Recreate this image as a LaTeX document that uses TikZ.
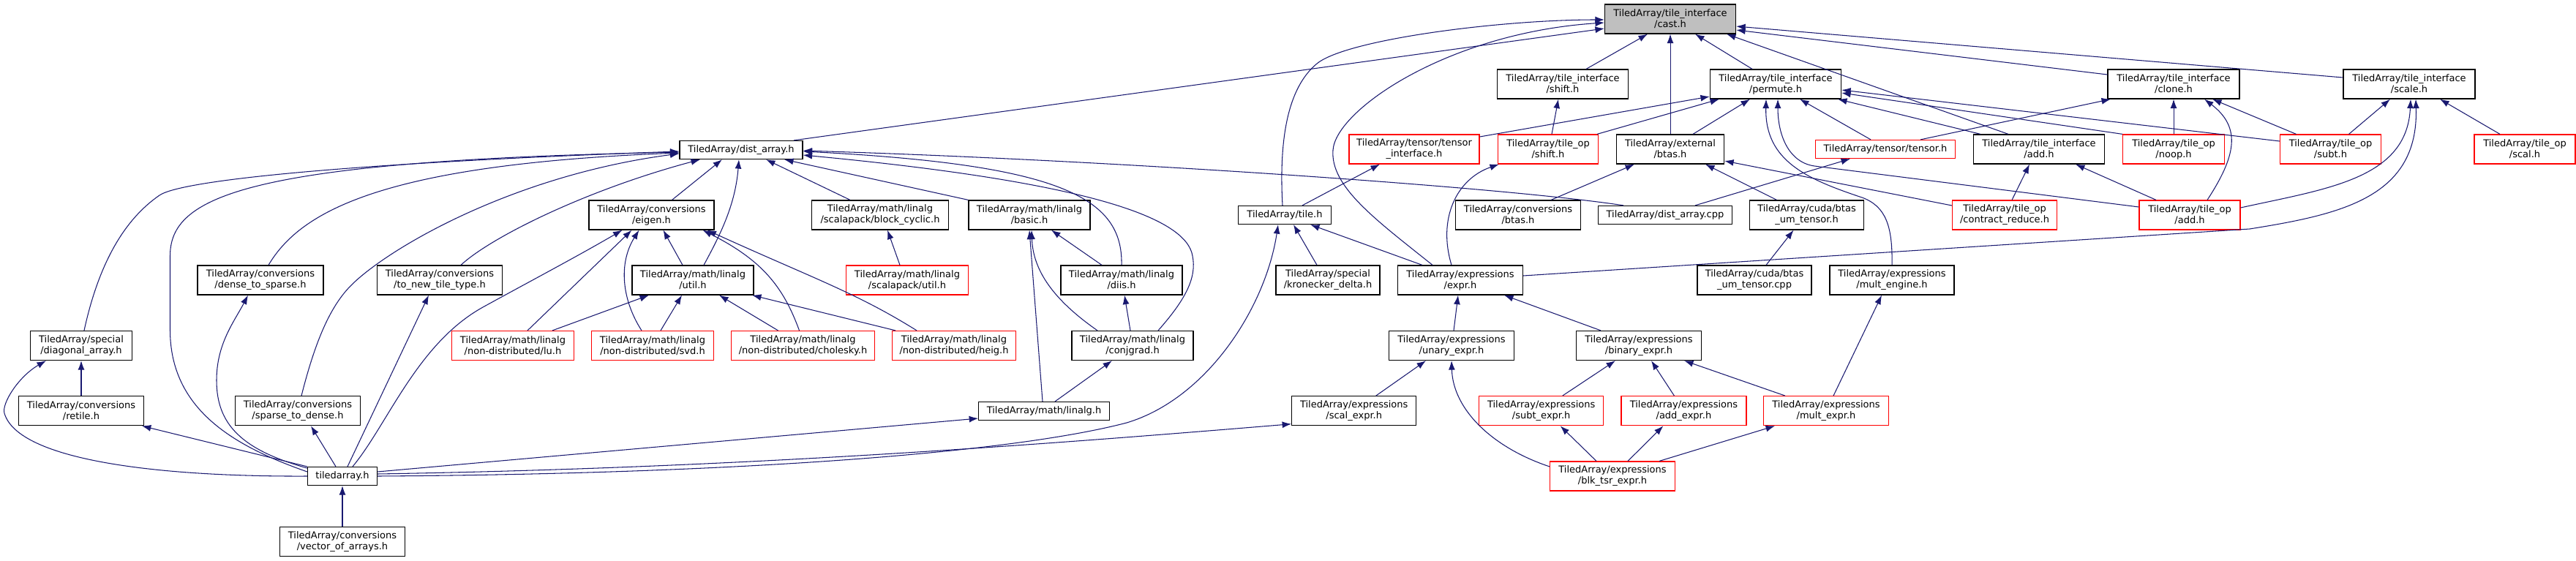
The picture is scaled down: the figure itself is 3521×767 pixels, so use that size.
\documentclass[tikz,border=0pt]{standalone}
\usepackage{fontspec}
\setmainfont{DejaVu Sans}
\usetikzlibrary{arrows.meta}
\definecolor{edgeblue}{HTML}{191970}
\definecolor{castgray}{HTML}{BFBFBF}
\tikzset{
  bx/.style={draw=black, line width=0.7pt, fill=white, inner sep=0pt, align=center,
    font=\fontsize{7.4}{8.54}\selectfont, minimum height=0.8cm},
  rb/.style={bx, draw=red},
  sl/.style={minimum height=0.5cm},
  lnk/.style={draw=edgeblue, line width=0.6pt, -{Latex[length=2.5mm,width=1.8mm]}},
}
\begin{document}
\begin{tikzpicture}[x=0.02cm,y=-0.02cm]
\useasboundingbox (0,0) rectangle (3521,767);
% row 0
\node[bx,fill=castgray,minimum width=3.58cm] (cast) at (2283,26) {TiledArray/tile\_interface\\/cast.h};
% row 1
\node[bx,minimum width=3.58cm] (tishift) at (2136,115) {TiledArray/tile\_interface\\/shift.h};
\node[bx,minimum width=3.58cm] (permute) at (2427,115) {TiledArray/tile\_interface\\/permute.h};
\node[bx,minimum width=3.60cm] (clone) at (2971,115) {TiledArray/tile\_interface\\/clone.h};
\node[bx,minimum width=3.60cm] (scale) at (3293,115) {TiledArray/tile\_interface\\/scale.h};
% row 2
\node[bx,sl,minimum width=3.36cm] (distarray) at (1013,205) {TiledArray/dist\_array.h};
\node[rb,minimum width=3.56cm] (tensorinterface) at (1933,204) {TiledArray/tensor/tensor\\\_interface.h};
\node[rb,minimum width=2.74cm] (topshift) at (2116,204) {TiledArray/tile\_op\\/shift.h};
\node[bx,minimum width=2.94cm] (btas) at (2283,204) {TiledArray/external\\/btas.h};
\node[rb,sl,minimum width=3.82cm] (tensor) at (2577,204) {TiledArray/tensor/tensor.h};
\node[bx,minimum width=3.58cm] (tiadd) at (2787,204) {TiledArray/tile\_interface\\/add.h};
\node[rb,minimum width=2.78cm] (noop) at (2971,204) {TiledArray/tile\_op\\/noop.h};
\node[rb,minimum width=2.76cm] (subt) at (3185.5,204) {TiledArray/tile\_op\\/subt.h};
\node[rb,minimum width=2.76cm] (scal) at (3451,204) {TiledArray/tile\_op\\/scal.h};
% row 3
\node[bx,minimum width=3.42cm] (eigen) at (890.5,294) {TiledArray/conversions\\/eigen.h};
\node[bx,minimum width=3.74cm] (blockcyclic) at (1203,294) {TiledArray/math/linalg\\/scalapack/block\_cyclic.h};
\node[bx,minimum width=3.32cm] (basic) at (1407,294) {TiledArray/math/linalg\\/basic.h};
\node[bx,sl,minimum width=2.54cm] (tile) at (1756,294) {TiledArray/tile.h};
\node[bx,minimum width=3.42cm] (convbtas) at (2075,294) {TiledArray/conversions\\/btas.h};
\node[bx,sl,minimum width=3.66cm] (distcpp) at (2276,294) {TiledArray/dist\_array.cpp};
\node[bx,minimum width=3.12cm] (cudah) at (2469.5,294) {TiledArray/cuda/btas\\\_um\_tensor.h};
\node[rb,minimum width=2.86cm] (contract) at (2740,294) {TiledArray/tile\_op\\/contract\_reduce.h};
\node[rb,minimum width=2.76cm] (opadd) at (2993,294) {TiledArray/tile\_op\\/add.h};
% row 4
\node[bx,minimum width=3.44cm] (dense2sparse) at (356,383) {TiledArray/conversions\\/dense\_to\_sparse.h};
\node[bx,minimum width=3.42cm] (tonew) at (601,383) {TiledArray/conversions\\/to\_new\_tile\_type.h};
\node[bx,minimum width=3.32cm] (util) at (947,383) {TiledArray/math/linalg\\/util.h};
\node[rb,minimum width=3.34cm] (scautil) at (1240,383) {TiledArray/math/linalg\\/scalapack/util.h};
\node[bx,minimum width=3.32cm] (diis) at (1533,383) {TiledArray/math/linalg\\/diis.h};
\node[bx,minimum width=2.84cm] (kron) at (1815,383) {TiledArray/special\\/kronecker\_delta.h};
\node[bx,minimum width=3.42cm] (expr) at (1996,383) {TiledArray/expressions\\/expr.h};
\node[bx,minimum width=3.12cm] (cudacpp) at (2398,383) {TiledArray/cuda/btas\\\_um\_tensor.cpp};
\node[bx,minimum width=3.40cm] (multengine) at (2586,383) {TiledArray/expressions\\/mult\_engine.h};
% row 5
\node[bx,minimum width=2.78cm] (diag) at (111,472.5) {TiledArray/special\\/diagonal\_array.h};
\node[rb,minimum width=3.34cm] (lu) at (701,472.5) {TiledArray/math/linalg\\/non-distributed/lu.h};
\node[rb,minimum width=3.33cm] (svd) at (892,472.5) {TiledArray/math/linalg\\/non-distributed/svd.h};
\node[rb,minimum width=3.92cm] (cholesky) at (1097.5,472.5) {TiledArray/math/linalg\\/non-distributed/cholesky.h};
\node[rb,minimum width=3.38cm] (heig) at (1304,472.5) {TiledArray/math/linalg\\/non-distributed/heig.h};
\node[bx,minimum width=3.32cm] (conjgrad) at (1548,472.5) {TiledArray/math/linalg\\/conjgrad.h};
\node[bx,minimum width=3.42cm] (unary) at (1984,472.5) {TiledArray/expressions\\/unary\_expr.h};
\node[bx,minimum width=3.42cm] (binary) at (2240,472.5) {TiledArray/expressions\\/binary\_expr.h};
% row 6
\node[bx,minimum width=3.41cm] (retile) at (111,561.7) {TiledArray/conversions\\/retile.h};
\node[bx,minimum width=3.41cm] (sparse2dense) at (407,561.7) {TiledArray/conversions\\/sparse\_to\_dense.h};
\node[bx,sl,minimum width=3.57cm] (linalg) at (1427,562) {TiledArray/math/linalg.h};
\node[bx,minimum width=3.40cm] (scalexpr) at (1850.7,561.7) {TiledArray/expressions\\/scal\_expr.h};
\node[rb,minimum width=3.40cm] (subtexpr) at (2106.7,561.7) {TiledArray/expressions\\/subt\_expr.h};
\node[rb,minimum width=3.42cm] (addexpr) at (2301.4,561.7) {TiledArray/expressions\\/add\_expr.h};
\node[rb,minimum width=3.42cm] (multexpr) at (2496,561.7) {TiledArray/expressions\\/mult\_expr.h};
% row 7
\node[bx,sl,minimum width=1.90cm] (tiledarray) at (468,651) {tiledarray.h};
\node[rb,minimum width=3.41cm] (blk) at (2204,651) {TiledArray/expressions\\/blk\_tsr\_expr.h};
% row 8
\node[bx,minimum width=3.41cm] (vecarrays) at (468,740.3) {TiledArray/conversions\\/vector\_of\_arrays.h};

% ---------- edges (arrow at the included file) ----------
% into cast.h
\draw[lnk] ([shift={(32,0)}]tishift.north) -- ([shift={(-31,0)}]cast.south);
\draw[lnk] (btas.north) -- (cast.south);
\draw[lnk] ([shift={(-32,0)}]permute.north) -- ([shift={(34,0)}]cast.south);
\draw[lnk] ([shift={(-42,0)}]tiadd.north) -- ([shift={(77,0)}]cast.south);
\draw[lnk] ([shift={(0,-13)}]clone.west) -- ([shift={(0,15)}]cast.east);
\draw[lnk] ([shift={(0,-9)}]scale.west) -- ([shift={(0,10)}]cast.east);
\draw[lnk] ([shift={(72,0)}]distarray.north) -- ([shift={(0,13)}]cast.west);
\draw[lnk] ([shift={(-3,0)}]tile.north) .. controls (1748,190) and (1760,120) .. (1800,87)
  .. controls (1840,54) and (2050,27) .. ([shift={(0,1)}]cast.west);
\draw[lnk] ([shift={(-38,0)}]expr.north) .. controls (1880,300) and (1818,255) .. (1822,205)
  .. controls (1826,150) and (1980,45) .. ([shift={(0,5)}]cast.west);
% into permute.h
\draw[lnk] ([shift={(0,-17)}]tensorinterface.east) -- ([shift={(0,17)}]permute.west);
\draw[lnk] ([shift={(67,0)}]topshift.north) -- ([shift={(-77,0)}]permute.south);
\draw[lnk] ([shift={(31,0)}]btas.north) -- ([shift={(-35,0)}]permute.south);
\draw[lnk] ([shift={(-20,0)}]tensor.north) -- ([shift={(33,0)}]permute.south);
\draw[lnk] (multengine.north) .. controls (2587,310) and (2578,282) .. (2545,270)
  .. controls (2470,245) and (2412,220) .. ([shift={(-13,0)}]permute.south);
\draw[lnk] ([shift={(0,-11)}]opadd.west) -- (2480,227) .. controls (2445,222) and (2430,185) .. ([shift={(3,0)}]permute.south);
\draw[lnk] ([shift={(-80,0)}]tiadd.north) -- ([shift={(85,0)}]permute.south);
\draw[lnk] ([shift={(-70,0)}]noop.north) -- ([shift={(0,12)}]permute.east);
\draw[lnk] ([shift={(0,-11)}]subt.west) -- ([shift={(0,8)}]permute.east);
% into clone.h
\draw[lnk] (noop.north) -- (clone.south);
\draw[lnk] ([shift={(-47,0)}]subt.north) -- ([shift={(53,0)}]clone.south);
\draw[lnk] ([shift={(24,0)}]opadd.north) .. controls (3055,215) and (3065,175) .. ([shift={(42,0)}]clone.south);
\draw[lnk] ([shift={(48,0)}]tensor.north) -- ([shift={(-86,0)}]clone.south);
% into scale.h
\draw[lnk] ([shift={(25,0)}]subt.north) -- ([shift={(-26,0)}]scale.south);
\draw[lnk] ([shift={(-34,0)}]scal.north) -- ([shift={(42,0)}]scale.south);
\draw[lnk] ([shift={(0,-10)}]opadd.east) .. controls (3180,258) and (3290,245) .. ([shift={(2,0)}]scale.south);
\draw[lnk] ([shift={(0,-6)}]expr.east) -- (3075,313) .. controls (3200,293) and (3306,270) .. ([shift={(9,0)}]scale.south);
% into tile_interface/add.h
\draw[lnk] ([shift={(10,0)}]contract.north) -- ([shift={(-13,0)}]tiadd.south);
\draw[lnk] ([shift={(-46,0)}]opadd.north) -- ([shift={(50,0)}]tiadd.south);
% into external/btas.h
\draw[lnk] ([shift={(0,-13)}]contract.west) -- ([shift={(0,16)}]btas.east);
\draw[lnk] ([shift={(45,0)}]convbtas.north) -- ([shift={(-49,0)}]btas.south);
\draw[lnk] ([shift={(-41,0)}]cudah.north) -- ([shift={(48,0)}]btas.south);
% into tensor.h, tensor_interface.h, tile_op/shift.h, tile_interface/shift.h
\draw[lnk] ([shift={(41,0)}]distcpp.north) -- ([shift={(-48,0)}]tensor.south);
\draw[lnk] ([shift={(24,0)}]tile.north) -- ([shift={(-47,0)}]tensorinterface.south);
\draw[lnk] ([shift={(-12,0)}]expr.north) .. controls (1965,300) and (1990,245) .. ([shift={(2,0)}]topshift.south west);
\draw[lnk] ([shift={(5,0)}]topshift.north) -- ([shift={(-6,0)}]tishift.south);
% into tile.h
\draw[lnk] (tiledarray.east) .. controls (1000,648) and (1380,620) .. (1540,578)
  .. controls (1650,545) and (1730,420) .. ([shift={(-9,0)}]tile.south);
\draw[lnk] ([shift={(-15,0)}]kron.north) -- ([shift={(12,0)}]tile.south);
\draw[lnk] ([shift={(-52,0)}]expr.north) -- ([shift={(35,0)}]tile.south);
% expressions
\draw[lnk] ([shift={(3,0)}]unary.north) -- ([shift={(-3,0)}]expr.south);
\draw[lnk] ([shift={(-52,0)}]binary.north) -- ([shift={(60,0)}]expr.south);
\draw[lnk] ([shift={(30,0)}]scalexpr.north) -- ([shift={(-35,0)}]unary.south);
\draw[lnk] ([shift={(0,-13)}]blk.west) .. controls (2040,612) and (1986,560) .. (unary.south);
\draw[lnk] ([shift={(29,0)}]subtexpr.north) -- ([shift={(-32,0)}]binary.south);
\draw[lnk] ([shift={(-13,0)}]addexpr.north) -- ([shift={(17,0)}]binary.south);
\draw[lnk] ([shift={(-56,0)}]multexpr.north) -- ([shift={(62,0)}]binary.south);
\draw[lnk] ([shift={(10,0)}]multexpr.north) -- ([shift={(-14,0)}]multengine.south);
\draw[lnk] ([shift={(-22,0)}]blk.north) -- ([shift={(26,0)}]subtexpr.south);
\draw[lnk] ([shift={(21,0)}]blk.north) -- ([shift={(-28,0)}]addexpr.south);
\draw[lnk] ([shift={(64,0)}]blk.north) -- ([shift={(-70,0)}]multexpr.south);
\draw[lnk] ([shift={(16,0)}]cudacpp.north) -- ([shift={(-18,0)}]cudah.south);
% into dist_array.h
\draw[lnk] ([shift={(-57,0)}]distcpp.north) .. controls (2050,255) and (1500,218) .. ([shift={(0,1)}]distarray.east);
\draw[lnk] (diis.north) .. controls (1535,270) and (1450,225) .. ([shift={(0,2)}]distarray.east);
\draw[lnk] ([shift={(35,0)}]conjgrad.north) .. controls (1620,410) and (1636,380) .. (1630,350)
  .. controls (1622,300) and (1500,250) .. ([shift={(0,7)}]distarray.east);
\draw[lnk] (basic.north west) -- ([shift={(59,0)}]distarray.south);
\draw[lnk] ([shift={(-41,0)}]blockcyclic.north) -- ([shift={(34,0)}]distarray.south);
\draw[lnk] ([shift={(28,0)}]eigen.north) -- ([shift={(-26,0)}]distarray.south);
\draw[lnk] ([shift={(15,0)}]util.north) .. controls (985,320) and (1005,280) .. ([shift={(-3,0)}]distarray.south);
\draw[lnk] ([shift={(29,0)}]tonew.north) .. controls (670,325) and (800,260) .. ([shift={(-56,0)}]distarray.south);
\draw[lnk] ([shift={(5,0)}]sparse2dense.north) .. controls (430,470) and (450,420) .. (480,390)
  .. controls (530,340) and (700,240) .. ([shift={(0,5)}]distarray.west);
\draw[lnk] ([shift={(11,0)}]dense2sparse.north) .. controls (410,290) and (520,225) .. ([shift={(0,4)}]distarray.west);
\draw[lnk] ([shift={(0,-6)}]tiledarray.west) .. controls (320,610) and (232,560) .. (232.5,450) -- (232.5,350)
  .. controls (232.5,270) and (330,220) .. ([shift={(0,3)}]distarray.west);
\draw[lnk] ([shift={(4,0)}]diag.north) .. controls (135,360) and (170,300) .. (218,267)
  .. controls (250,245) and (500,222) .. ([shift={(0,2)}]distarray.west);
% into eigen.h
\draw[lnk] ([shift={(-14,0)}]util.north) -- ([shift={(16,0)}]eigen.south);
\draw[lnk] ([shift={(20,0)}]lu.north) -- ([shift={(-27,0)}]eigen.south);
\draw[lnk] ([shift={(-15,0)}]svd.north) .. controls (850,410) and (845,360) .. ([shift={(-17,0)}]eigen.south);
\draw[lnk] ([shift={(14,0)}]tiledarray.north) .. controls (530,580) and (570,470) .. (660,420)
  .. controls (720,387) and (790,350) .. ([shift={(-40,0)}]eigen.south);
\draw[lnk] ([shift={(-5,0)}]cholesky.north) .. controls (1070,390) and (1040,355) .. ([shift={(70,0)}]eigen.south);
\draw[lnk] ([shift={(-51,0)}]heig.north) .. controls (1170,400) and (1110,380) .. ([shift={(76,0)}]eigen.south);
% into util.h
\draw[lnk] ([shift={(54,0)}]lu.north) -- ([shift={(-60,0)}]util.south);
\draw[lnk] ([shift={(11,0)}]svd.north) -- ([shift={(-15,0)}]util.south);
\draw[lnk] ([shift={(-34,0)}]cholesky.north) -- ([shift={(36,0)}]util.south);
\draw[lnk] ([shift={(-80,0)}]heig.north) -- ([shift={(81,0)}]util.south);
% linalg family
\draw[lnk] ([shift={(-10,0)}]scautil.north) -- ([shift={(10,0)}]blockcyclic.south);
\draw[lnk] ([shift={(-27,0)}]diis.north) -- ([shift={(30,0)}]basic.south);
\draw[lnk] ([shift={(-2,0)}]linalg.north) -- (basic.south);
\draw[lnk] ([shift={(-48,0)}]conjgrad.north) .. controls (1440,410) and (1412,370) .. ([shift={(3,0)}]basic.south);
\draw[lnk] ([shift={(-3,0)}]conjgrad.north) -- ([shift={(4,0)}]diis.south);
\draw[lnk] ([shift={(15,0)}]linalg.north) -- ([shift={(-28,0)}]conjgrad.south);
% from tiledarray.h
\draw[lnk] ([shift={(0,-6)}]tiledarray.east) -- ([shift={(0,10)}]linalg.west);
\draw[lnk] ([shift={(0,-3)}]tiledarray.east) .. controls (1000,640) and (1400,610) .. ([shift={(0,18)}]scalexpr.west);
\draw[lnk] (tiledarray.north west) -- ([shift={(-3,0)}]retile.south east);
\draw[lnk] (tiledarray.west) .. controls (220,652) and (25,630) .. (6,565)
  .. controls (2,552) and (25,515) .. ([shift={(-48,0)}]diag.south);
\draw[lnk] ([shift={(0,-11)}]tiledarray.west) .. controls (330,615) and (296,580) .. (296,520)
  .. controls (296,470) and (320,440) .. ([shift={(-17,0)}]dense2sparse.south);
\draw[lnk] ([shift={(-9,0)}]tiledarray.north) -- ([shift={(18,0)}]sparse2dense.south);
\draw[lnk] ([shift={(7,0)}]tiledarray.north) -- ([shift={(-15,0)}]tonew.south);
\draw[lnk] (vecarrays.north) -- (tiledarray.south);
\draw[lnk] (retile.north) -- (diag.south);
\end{tikzpicture}
\end{document}
